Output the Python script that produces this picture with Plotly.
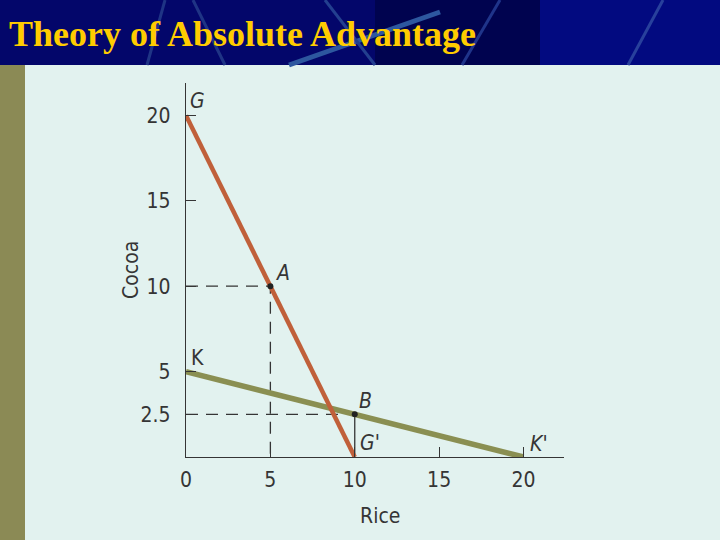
"""
Theory of Absolute Advantage — production possibility lines (Ghana vs South Korea)
"""
import plotly.graph_objects as go

# dados
rice_g = [0, 10]
cocoa_g = [20, 0]
rice_k = [0, 20]
cocoa_k = [5, 0]
pt_names = ["A", "B"]
pt_rice = [5, 10]
pt_cocoa = [10, 2.5]
x_ticks = [0, 5, 10, 15, 20]
y_ticks = [2.5, 5, 10, 15, 20]
y_tick_text = ["2.5", "5", "10", "15", "20"]

BG = "#e2f2ef"
NAVY = "#03066a"
OLIVE = "#8b8a55"
RED = "#c0603a"
GREEN = "#8a8f52"
INK = "#353535"
FONT = "Liberation Sans Narrow, DejaVu Sans Condensed, Roboto, sans-serif"

# conversão pixel -> paper (área do gráfico: x 186..564, y 83..457)
L, R, T, B = 186, 564, 83, 457


def px(x):
    return (x - L) / (R - L)


def py(y):
    return (B - y) / (B - T)


fig = go.Figure()

# linhas guia tracejadas
fig.add_trace(go.Scatter(x=[0, pt_rice[0], pt_rice[0]], y=[pt_cocoa[0], pt_cocoa[0], 0],
                         mode="lines", line=dict(color=INK, width=1.3, dash="12px,8px"),
                         showlegend=False, hoverinfo="skip"))
fig.add_trace(go.Scatter(x=[0, pt_rice[1]], y=[pt_cocoa[1], pt_cocoa[1]],
                         mode="lines", line=dict(color=INK, width=1.3, dash="12px,8px"),
                         showlegend=False, hoverinfo="skip"))
fig.add_trace(go.Scatter(x=[pt_rice[1], pt_rice[1]], y=[pt_cocoa[1], 0],
                         mode="lines", line=dict(color=INK, width=1.3),
                         showlegend=False, hoverinfo="skip"))

# fronteiras de produção
fig.add_trace(go.Scatter(x=rice_k, y=cocoa_k, mode="lines",
                         line=dict(color=GREEN, width=5.5), showlegend=False))
fig.add_trace(go.Scatter(x=rice_g, y=cocoa_g, mode="lines",
                         line=dict(color=RED, width=4.5), showlegend=False))

# pontos A e B
fig.add_trace(go.Scatter(x=pt_rice, y=pt_cocoa, mode="markers",
                         marker=dict(color="#222222", size=6), showlegend=False))

# rótulos das retas
labels = [
    (rice_g[0], cocoa_g[0], "<i>G</i>", 11, 14),
    (rice_g[1], cocoa_g[1], "<i>G'</i>", 15, 14),
    (rice_k[0], cocoa_k[0], "K", 11, 14),
    (rice_k[1], cocoa_k[1], "<i>K'</i>", 15, 13),
    (pt_rice[0], pt_cocoa[0], "<i>" + pt_names[0] + "</i>", 13, 13),
    (pt_rice[1], pt_cocoa[1], "<i>" + pt_names[1] + "</i>", 11, 13),
]
for x, y, t, dx, dy in labels:
    fig.add_annotation(x=x, y=y, text=t, showarrow=False, xanchor="center",
                       yanchor="middle", xshift=dx, yshift=dy,
                       font=dict(family=FONT, size=21, color=INK))

# títulos dos eixos
fig.add_annotation(x=px(380), y=py(516), xref="paper", yref="paper", text="Rice",
                   xanchor="center", yanchor="middle",
                   showarrow=False, font=dict(family=FONT, size=21, color=INK))
fig.add_annotation(x=px(131), y=py(270), xref="paper", yref="paper", text="Cocoa",
                   xanchor="center", yanchor="middle",
                   textangle=-90, showarrow=False, font=dict(family=FONT, size=21, color=INK))

# cabeçalho do slide
shapes = [
    dict(type="rect", xref="paper", yref="paper", x0=px(0), x1=px(720), y0=py(65), y1=py(0),
         fillcolor=NAVY, line_width=0, layer="below"),
    dict(type="rect", xref="paper", yref="paper", x0=px(375), x1=px(540), y0=py(65), y1=py(0),
         fillcolor="#00034f", line_width=0, layer="below"),
    dict(type="rect", xref="paper", yref="paper", x0=px(540), x1=px(720), y0=py(65), y1=py(0),
         fillcolor="#020a80", line_width=0, layer="below"),
    dict(type="rect", xref="paper", yref="paper", x0=px(0), x1=px(25), y0=py(540), y1=py(65),
         fillcolor=OLIVE, line_width=0, layer="below"),
]
deco = [((147, 65), (165, 0), "#1f3485", 3), ((193, 0), (225, 65), "#1f3485", 3),
        ((289, 65), (440, 12), "#2d579f", 5), ((325, 0), (375, 65), "#233f8f", 3),
        ((500, 0), (462, 65), "#1f348a", 3), ((663, 0), (628, 65), "#28409c", 3)]
for (x0, y0), (x1, y1), c, w in deco:
    shapes.append(dict(type="line", xref="paper", yref="paper", x0=px(x0), y0=py(y0),
                       x1=px(x1), y1=py(y1), line=dict(color=c, width=w), layer="below"))

fig.add_annotation(x=px(7), y=py(34), xref="paper", yref="paper", xanchor="left",
                   yanchor="middle", showarrow=False, text="<b>Theory of Absolute Advantage</b>",
                   font=dict(family="Liberation Serif, Times New Roman, serif", size=36,
                             color="#ffcc00"))

fig.update_layout(
    width=720, height=540,
    margin=dict(l=L, r=720 - R, t=T, b=540 - B),
    paper_bgcolor=BG, plot_bgcolor=BG,
    shapes=shapes,
    showlegend=False,
)
fig.update_xaxes(range=[0, 22.4], tickvals=x_ticks, ticks="inside", ticklen=10,
                 tickcolor=INK, tickwidth=1.3, showline=True, linecolor=INK, linewidth=1.3,
                 showgrid=False, zeroline=False, fixedrange=True, ticklabelstandoff=4,
                 tickfont=dict(family=FONT, size=21, color=INK))
fig.update_yaxes(range=[0, 21.9], tickvals=y_ticks, ticktext=y_tick_text, ticks="inside",
                 ticklen=10, tickcolor=INK, tickwidth=1.3, showline=True, linecolor=INK,
                 linewidth=1.3, showgrid=False, zeroline=False, fixedrange=True,
                 ticklabelstandoff=10, tickfont=dict(family=FONT, size=21, color=INK))

# tira a margem padrão da página para o gráfico ocupar a janela inteira
fig.write_html("out.html", config={"displayModeBar": False},
               post_script="document.body.style.margin='0';")
